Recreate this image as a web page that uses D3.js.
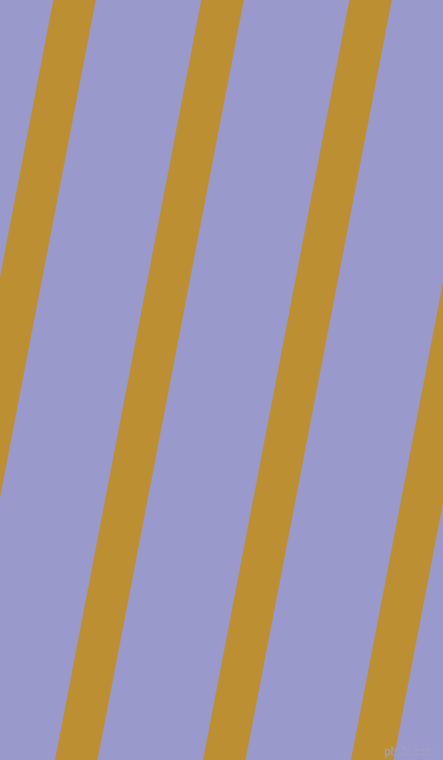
<!DOCTYPE html>
<html>
<head>
<meta charset="utf-8">
<script src="https://cdn.jsdelivr.net/npm/d3@7"></script>
<style>
  html, body { margin: 0; padding: 0; overflow: hidden; }
</style>
</head>
<body>
<div id="stripes"></div>
<script>
// stripe number and where its left edge meets the top of the picture
var stripes = [0, 1, 2, 3];
var topEdge = [53.3, 201.3];      // stripe 0 and stripe 1, px at y = 0
var stripeWidth = 42.5;           // horizontal width of one stripe
var lean = 0.1925;                // x shift per px down
var watermark = 'pixlis.com';

var chart_width = 443;
var chart_height = 760;

var svg = d3.select('#stripes')
    .append('svg')
    .attr('width', chart_width)
    .attr('height', chart_height);

var k_scale = d3.scaleLinear()
    .domain([0, 1])
    .range(topEdge);

var y_scale = d3.scaleLinear()
    .domain([0, chart_height])
    .range([0, chart_height]);

svg.append('rect')
    .attr('width', chart_width)
    .attr('height', chart_height)
    .attr('fill', '#9999cc');

svg.append('g')
    .selectAll('polygon')
    .data(stripes)
    .enter()
    .append('polygon')
    .attr('points', function (d) {
        var x0 = k_scale(d);
        var yb = y_scale(chart_height);
        var shift = lean * yb;
        return [
            [x0, 0],
            [x0 + stripeWidth, 0],
            [x0 + stripeWidth - shift, yb],
            [x0 - shift, yb]
        ].join(' ');
    })
    .attr('fill', '#bd8f33');

svg.append('text')
    .attr('x', chart_width - 8)
    .attr('y', chart_height - 5)
    .style('text-anchor', 'end')
    .style('font-family', 'DejaVu Sans, sans-serif')
    .style('font-size', '10px')
    .attr('fill', '#8d8db0')
    .attr('stroke', '#aeaed0')
    .attr('stroke-width', 0.3)
    .text(watermark);
</script>
</body>
</html>
